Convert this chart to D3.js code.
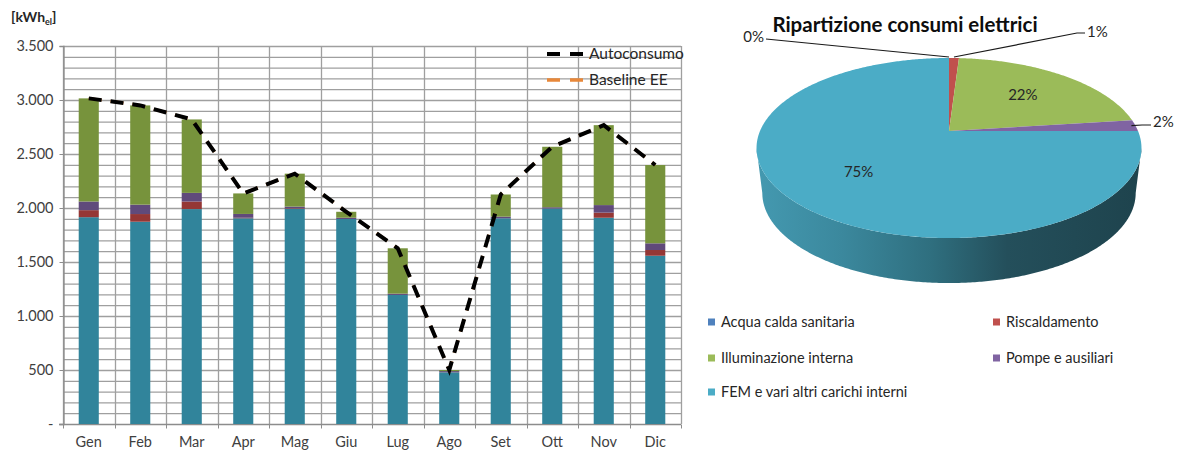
<!DOCTYPE html>
<html>
<head>
<meta charset="utf-8">
<script src="https://cdn.jsdelivr.net/npm/d3@7/dist/d3.min.js"></script>
<style>
  html, body { margin: 0; padding: 0; background: #fff; }
  svg { display: block; font-family: Lato, "Open Sans", sans-serif; }
</style>
</head>
<body>
<svg id="chart" width="1179" height="450"></svg>
<script>
// Monthly electricity use by end use [kWh_el]
const months = ["Gen", "Feb", "Mar", "Apr", "Mag", "Giu", "Lug", "Ago", "Set", "Ott", "Nov", "Dic"];
const acquaCalda     = [0, 0, 0, 0, 0, 0, 0, 0, 0, 0, 0, 0];
const fem            = [1915, 1873, 1990, 1905, 1993, 1898, 1195, 478, 1905, 1995, 1910, 1558];
const riscaldamento  = [65, 71, 70, 5, 5, 0, 0, 0, 0, 0, 47, 53];
const pompe          = [80, 87, 80, 35, 15, 12, 12, 12, 15, 12, 70, 62];
const illuminazione  = [955, 919, 680, 190, 305, 55, 420, 10, 205, 560, 740, 725];
const autoconsumo    = [3015, 2950, 2820, 2135, 2318, 1965, 1627, 500, 2125, 2567, 2767, 2398];
const baselineEE     = [3015, 2950, 2820, 2135, 2318, 1965, 1627, 500, 2125, 2567, 2767, 2398];
const yTicks         = [0, 500, 1000, 1500, 2000, 2500, 3000, 3500];

// Annual breakdown shown in the pie [%]
const pieCategories = ["Acqua calda sanitaria", "Riscaldamento", "Illuminazione interna", "Pompe e ausiliari", "FEM e vari altri carichi interni"];
const pieShares     = [0, 1, 22, 2, 75];
const pieLabels     = ["0%", "1%", "22%", "2%", "75%"];

const svg = d3.select("#chart");
const textSize = 14.5;

// ---------- stacked bars ----------
const barColors = {
  acqua: "#376092", fem: "#31849B", risc: "#953735", pompe: "#604A7B", illum: "#77933C"
};
const stackKeys = ["acqua", "fem", "risc", "pompe", "illum"];
const table = months.map((m, i) => ({
  month: m, acqua: acquaCalda[i], fem: fem[i], risc: riscaldamento[i],
  pompe: pompe[i], illum: illuminazione[i]
}));

const plot = { left: 63, right: 681, top: 46, bottom: 424 };
const x = d3.scaleBand().domain(months).range([plot.left, plot.right]).padding(0);
const y = d3.scaleLinear().domain([0, 3500]).range([plot.bottom, plot.top]);

const itLocale = d3.formatLocale({ decimal: ",", thousands: ".", grouping: [3], currency: ["€", ""] });
const fmt = itLocale.format(",.0f");

const gridColor = "#9f9f9f";
const grid = svg.append("g");
// horizontal gridlines every 100 kWh
grid.selectAll("line.h").data(d3.range(100, 3501, 100)).join("line")
  .attr("x1", plot.left).attr("x2", plot.right)
  .attr("y1", d => y(d) + 0.5).attr("y2", d => y(d) + 0.5)
  .attr("stroke", gridColor).attr("stroke-width", 1.3);
// vertical gridlines at month boundaries
const bounds = months.map(m => x(m)).concat([plot.right]);
grid.selectAll("line.v").data(bounds).join("line")
  .attr("x1", d => Math.round(d) + 0.5).attr("x2", d => Math.round(d) + 0.5)
  .attr("y1", plot.top).attr("y2", plot.bottom)
  .attr("stroke", gridColor).attr("stroke-width", 1.3);

// y axis
const yAxis = svg.append("g").attr("transform", `translate(${plot.left + 0.5},0)`)
  .call(d3.axisLeft(y).tickValues(yTicks).tickSize(4).tickPadding(6)
    .tickFormat(d => d === 0 ? "-" : fmt(d)));
yAxis.select(".domain").attr("stroke", "#8c8c8c").attr("stroke-width", 1.3);
yAxis.selectAll(".tick line").attr("stroke", "#8c8c8c");
yAxis.selectAll("text").attr("font-size", textSize).attr("fill", "#404040").attr("font-family", "Lato, sans-serif");

// x axis with ticks at category boundaries
const xAxisG = svg.append("g").attr("transform", `translate(0,${plot.bottom + 0.5})`);
xAxisG.append("line").attr("x1", plot.left - 4).attr("x2", plot.right)
  .attr("stroke", "#8c8c8c").attr("stroke-width", 1.3);
xAxisG.selectAll("line.t").data(bounds).join("line")
  .attr("x1", d => Math.round(d) + 0.5).attr("x2", d => Math.round(d) + 0.5)
  .attr("y1", 0).attr("y2", 4).attr("stroke", "#8c8c8c");
xAxisG.selectAll("text").data(months).join("text")
  .attr("x", d => x(d) + x.bandwidth() / 2).attr("y", 22)
  .attr("text-anchor", "middle").attr("font-size", textSize).attr("fill", "#404040")
  .text(d => d);

// bars
const series = d3.stack().keys(stackKeys)(table);
const barW = x.bandwidth() * 0.39;
svg.append("g").selectAll("g").data(series).join("g")
  .attr("fill", d => barColors[d.key])
  .selectAll("rect").data(d => d).join("rect")
  .attr("x", d => x(d.data.month) + (x.bandwidth() - barW) / 2)
  .attr("width", barW)
  .attr("y", d => y(d[1]))
  .attr("height", d => Math.max(0, y(d[0]) - y(d[1])));

// dashed lines
const line = d3.line().x((d, i) => x(months[i]) + x.bandwidth() / 2).y(d => y(d));
svg.append("path").datum(baselineEE).attr("d", line)
  .attr("fill", "none").attr("stroke", "#E8883A").attr("stroke-width", 3)
  .attr("stroke-dasharray", "13,9");
svg.append("path").datum(autoconsumo).attr("d", line)
  .attr("fill", "none").attr("stroke", "#000").attr("stroke-width", 4)
  .attr("stroke-dasharray", "13,9");

// line legend
const lineLegend = [
  { name: "Autoconsumo", color: "#000", w: 4 },
  { name: "Baseline EE", color: "#E8883A", w: 3.5 }
];
const lg = svg.append("g").selectAll("g").data(lineLegend).join("g")
  .attr("transform", (d, i) => `translate(547,${54 + i * 26})`);
lg.append("line").attr("x1", 0).attr("x2", 36).attr("y1", 0).attr("y2", 0)
  .attr("stroke", d => d.color).attr("stroke-width", d => d.w).attr("stroke-dasharray", "13,10");
lg.append("text").attr("x", 42).attr("y", 5).attr("font-size", 15.5).attr("fill", "#262626")
  .text(d => d.name);

// unit label
const unit = svg.append("text").attr("x", 11).attr("y", 22).attr("font-size", 14)
  .attr("font-weight", "bold").attr("fill", "#262626");
unit.append("tspan").text("[kWh");
unit.append("tspan").attr("font-size", 9).attr("dy", 3).text("el");
unit.append("tspan").attr("dy", -3).text("]");

// ---------- 3D pie ----------
const pieColors = ["#4F81BD", "#C0504D", "#9BBB59", "#8064A2", "#4BACC6"];
const P = { cx: 949, cy: 131, s: 189, t: 86.8, k: 0.189, depth: 45, shrink: 0.97 };
// perspective projection of a point on the unit disc; angle clockwise from the far side
function proj(theta, r = 1, bottom = false) {
  const u = r * Math.sin(theta), v = r * Math.cos(theta), w = 1 + P.k * v;
  const sx = bottom ? P.s * P.shrink : P.s;
  return [P.cx + sx * u / w, P.cy - P.t * v / w + (bottom ? P.depth : 0)];
}
function arcPoints(a0, a1, bottom) {
  const n = Math.max(2, Math.ceil(Math.abs(a1 - a0) / 0.01));
  return d3.range(n + 1).map(i => proj(a0 + (a1 - a0) * i / n, 1, bottom));
}

const defs = svg.append("defs");
const grad = defs.append("linearGradient").attr("id", "sideGrad")
  .attr("gradientUnits", "userSpaceOnUse").attr("x1", 757).attr("x2", 1142).attr("y1", 0).attr("y2", 0);
[[0, "#4499B0"], [0.22, "#3B889D"], [0.45, "#2F6F7F"], [0.65, "#244F5B"], [1, "#1E434D"]]
  .forEach(([o, c]) => grad.append("stop").attr("offset", o).attr("stop-color", c));

// side wall (front half only)
const thR = Math.acos(-P.k), thL = 2 * Math.PI - thR;
const sidePts = arcPoints(thR, thL, false).concat(arcPoints(thL, thR, true));
svg.append("path").attr("d", d3.line()(sidePts) + "Z").attr("fill", "url(#sideGrad)");

// top face slices
const arcs = d3.pie().sort(null).startAngle(0).endAngle(2 * Math.PI)(pieShares);
svg.append("g").selectAll("path").data(arcs).join("path")
  .attr("d", d => {
    if (d.endAngle - d.startAngle <= 0) return null;
    return d3.line()([[P.cx, P.cy]].concat(arcPoints(d.startAngle, d.endAngle, false))) + "Z";
  })
  .attr("fill", (d, i) => pieColors[i]);

// percentage labels
const labelStyle = g => g.attr("font-size", 15).attr("fill", "#262626");
const mid = d => (d.startAngle + d.endAngle) / 2;
// inside labels
[[2, 0.62], [4, 0.62]].forEach(([i, r]) => {
  const p = proj(mid(arcs[i]), r);
  svg.append("text").attr("x", p[0]).attr("y", p[1] + 5).attr("text-anchor", "middle")
    .call(labelStyle).text(pieLabels[i]);
});
// leader-lined labels
const lead = svg.append("g").attr("fill", "none").attr("stroke", "#1a1a1a").attr("stroke-width", 1.2);
{
  const p0 = proj(mid(arcs[0]));
  lead.append("path").attr("d", d3.line()([[p0[0], p0[1] - 1], [766, 39]]));
  svg.append("text").attr("x", 764).attr("y", 42).attr("text-anchor", "end").call(labelStyle).text(pieLabels[0]);
  const p1 = proj(mid(arcs[1]));
  lead.append("path").attr("d", d3.line()([[p1[0], p1[1] - 1], [1077, 33], [1085, 33]]));
  svg.append("text").attr("x", 1087).attr("y", 37).call(labelStyle).text(pieLabels[1]);
  const p3 = proj(mid(arcs[3]));
  lead.append("path").attr("d", d3.line()([[p3[0] - 4, p3[1]], [1142, 125], [1151, 125]]));
  svg.append("text").attr("x", 1153).attr("y", 127).call(labelStyle).text(pieLabels[3]);
}

// title
svg.append("text").attr("x", 905).attr("y", 32).attr("text-anchor", "middle")
  .attr("font-size", 20.5).attr("font-weight", "bold").attr("fill", "#0d0d0d")
  .text("Ripartizione consumi elettrici");

// pie legend
const pl = svg.append("g").selectAll("g").data(pieCategories).join("g")
  .attr("transform", (d, i) => `translate(${i % 2 === 0 || i === 4 ? 708 : 993},${[322, 322, 358, 358, 392][i]})`);
pl.append("rect").attr("x", 0).attr("y", -3.5).attr("width", 7).attr("height", 7)
  .attr("fill", (d, i) => pieColors[i]);
pl.append("text").attr("x", 13).attr("y", 5).attr("font-size", 14.5).attr("fill", "#262626").text(d => d);
</script>
</body>
</html>
